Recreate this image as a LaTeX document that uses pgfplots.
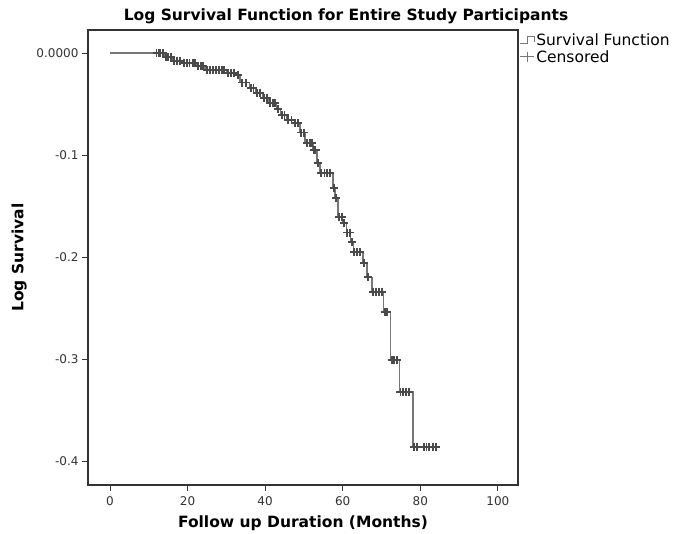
\documentclass[border=0pt]{standalone}
\usepackage{fontspec}
\setmainfont{DejaVu Sans}
\usepackage{pgfplots}
\pgfplotsset{compat=1.18}

\definecolor{curvegray}{HTML}{777777}
\definecolor{markgray}{HTML}{4A4A4A}
\definecolor{framegray}{HTML}{333333}

\pgfplotstableread{
x y
0 0
14.2 -0.004
16.2 -0.008
18.8 -0.010
22.4 -0.013
24.5 -0.017
30.2 -0.020
32.7 -0.022
33.5 -0.029
36 -0.034
37.5 -0.039
39.4 -0.044
41 -0.049
43 -0.055
44 -0.061
45.6 -0.066
47.5 -0.069
49 -0.078
50.3 -0.088
52.3 -0.095
53.4 -0.108
54.1 -0.118
57.5 -0.132
58 -0.142
58.8 -0.161
60 -0.167
61 -0.176
62 -0.185
62.8 -0.195
65.2 -0.206
66.3 -0.220
67.6 -0.234
70.5 -0.254
72.4 -0.301
74.7 -0.332
78.1 -0.386
84.5 -0.386
}\survival

\pgfplotstableread{
x y
12.0 0
12.5 0
13 0
13.6 0
14.5 -0.004
15 -0.004
15.8 -0.004
16.5 -0.008
17.2 -0.008
18 -0.008
19 -0.010
19.8 -0.010
20.5 -0.010
21.3 -0.010
22 -0.010
22.8 -0.013
23.5 -0.013
24 -0.013
25 -0.017
25.8 -0.017
26.5 -0.017
27.3 -0.017
28 -0.017
28.8 -0.017
29.5 -0.017
30.5 -0.020
31.3 -0.020
32 -0.020
33 -0.022
34 -0.029
35 -0.029
36.3 -0.034
37 -0.034
37.8 -0.039
38.7 -0.039
39.8 -0.044
40.5 -0.044
41.3 -0.049
42 -0.049
42.5 -0.049
43.3 -0.055
44.3 -0.061
45 -0.061
46 -0.066
46.8 -0.066
47.8 -0.069
48.5 -0.069
49.3 -0.078
50 -0.078
50.8 -0.088
51.5 -0.088
52 -0.088
52.5 -0.095
53 -0.095
53.6 -0.108
54.5 -0.118
55.3 -0.118
56 -0.118
56.8 -0.118
57.7 -0.132
58.3 -0.142
59 -0.161
59.8 -0.161
60.3 -0.167
61.2 -0.176
61.8 -0.176
62.3 -0.185
63 -0.195
63.8 -0.195
64.5 -0.195
65.5 -0.206
66.6 -0.220
67.8 -0.234
68.6 -0.234
69.4 -0.234
70.2 -0.234
70.8 -0.254
71.5 -0.254
72.6 -0.301
73.3 -0.301
74 -0.301
74.9 -0.332
75.6 -0.332
76.4 -0.332
77.2 -0.332
78.5 -0.386
79.2 -0.386
81 -0.386
81.6 -0.386
82.2 -0.386
83.2 -0.386
84 -0.386
}\censored

\begin{document}
\begin{tikzpicture}
\path[use as bounding box] (-88bp,-49bp) rectangle (589bp,485bp);
\begin{axis}[
  at={(0,0)}, anchor=south west,
  scale only axis,
  width=430bp, height=455bp,
  xmin=-5.67, xmax=105.2,
  ymin=-0.4235, ymax=0.0225,
  xtick={0,20,40,60,80,100},
  ytick={-0.4,-0.3,-0.2,-0.1,0},
  yticklabels={-0.4,-0.3,-0.2,-0.1,0.0000},
  tick pos=left,
  tick align=outside,
  major tick length=6bp,
  tick style={framegray, line width=0.9bp},
  axis line style={framegray, line width=1.1bp},
  /pgf/number format/assume math mode=true,
  ticklabel style={font=\fontsize{12bp}{14bp}\selectfont, text=black!80},
  xticklabel style={yshift=-2bp},
  title={\bfseries Log Survival Function for Entire Study Participants},
  title style={font=\fontsize{15.5bp}{18bp}\selectfont, at={(0.6,1)}, anchor=south, yshift=-3bp},
  xlabel={\bfseries Follow up Duration (Months)},
  ylabel={\bfseries Log Survival},
  label style={font=\fontsize{15.5bp}{18bp}\selectfont},
  xlabel style={yshift=-3bp},
  ylabel style={yshift=3bp},
  legend style={at={(1.004,0.995)}, anchor=north west, draw=none, fill=none,
    font=\fontsize{15.5bp}{17bp}\selectfont, row sep=0bp,
    inner sep=0pt, nodes={inner sep=1.5bp}},
  legend cell align=left,
]
\addplot[const plot, color=curvegray, line width=1.4bp,
  legend image code/.code={\draw[curvegray, line width=0.9bp] (0bp,-3bp) -- (7bp,-3bp) -- (7bp,4bp) -- (14bp,4bp) -- (14bp,-1bp);}]
  table[x=x, y=y] {\survival};
\addlegendentry{Survival Function}
\addplot[only marks, mark=+, mark size=4bp, color=markgray, mark options={line width=1.9bp},
  legend image code/.code={\draw[curvegray, line width=0.9bp] (0bp,0bp) -- (14bp,0bp); \draw[curvegray, line width=0.9bp] (7bp,-5bp) -- (7bp,5bp);}]
  table[x=x, y=y] {\censored};
\addlegendentry{Censored}
\end{axis}
\end{tikzpicture}
\end{document}
